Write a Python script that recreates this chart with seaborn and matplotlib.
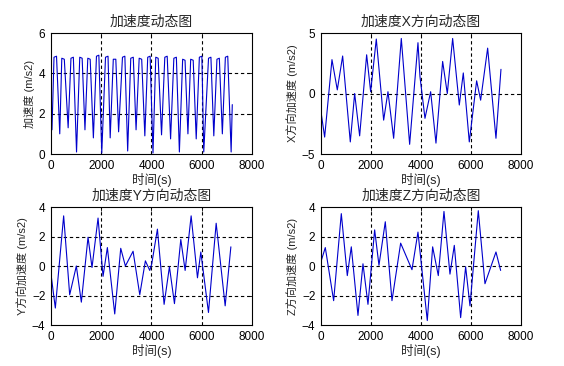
import matplotlib
matplotlib.use('Agg')
import matplotlib.pyplot as plt
import pandas as pd
import seaborn as sns

# Values (time in s, acceleration in m/s2)
# magnitude: the peaks are short plateaus, so each has a start and an end point
t_mag = [0, 40, 120, 220, 349, 430, 530, 683, 795, 890, 1017, 1145, 1240, 1352,
         1465, 1560, 1687, 1810, 1905, 2021, 2170, 2270, 2356, 2480, 2580, 2691,
         2845, 2940, 3052, 3175, 3275, 3386, 3510, 3610, 3735, 3850, 3945, 4060,
         4170, 4265, 4400, 4530, 4625, 4760, 4890, 4990, 5110, 5240, 5335, 5450,
         5560, 5660, 5780, 5905, 6005, 6080, 6270, 6365, 6480, 6605, 6700, 6820,
         6940, 7035, 7170, 7215]
a_mag = [3.3, 1.2, 4.8, 4.85, 1.0, 4.75, 4.7, 1.3, 4.75, 4.8, 0.1, 4.8, 4.75, 1.2,
         4.75, 4.7, 0.8, 4.85, 4.9, 0.05, 4.8, 4.85, 0.8, 4.7, 4.7, 1.1,
         4.8, 4.85, 0.15, 4.75, 4.8, 1.2, 4.75, 4.7, 0.9, 4.8, 4.85, 0.05,
         4.8, 4.75, 0.95, 4.8, 4.85, 0.75, 4.75, 4.8, 0.1, 4.7, 4.65, 1.0,
         4.7, 4.65, 0.75, 4.8, 4.85, 0.1, 4.75, 4.8, 0.9, 4.7, 4.75, 1.0,
         4.8, 4.85, 0.1, 2.45]

t_x = [0, 147, 440, 653, 867, 1173, 1347, 1547, 1827, 1987, 2213, 2507, 2680, 2907,
       3213, 3547, 3880, 3960, 4160, 4387, 4600, 4867, 5053, 5267, 5533, 5693,
       5933, 6227, 6387, 6667, 7000, 7200]
a_x = [-1.5, -3.6, 2.8, 0.3, 3.1, -4.0, 0.0, -3.5, 3.2, 0.15, 4.5, -2.2, 0.15, -3.7,
       4.55, -4.2, 4.2, 1.4, -2.05, 0.15, -4.1, 2.65, 0.0, 4.55, -0.95, 1.7,
       -4.0, 1.05, -0.55, 3.75, -3.7, 2.0]

t_y = [0, 173, 504, 744, 1009, 1208, 1474, 1633, 1873, 2072, 2244, 2537, 2776, 2961,
       3267, 3533, 3757, 3931, 4011, 4236, 4502, 4714, 4914, 5166, 5339, 5578,
       5830, 5963, 6268, 6574, 6932, 7159]
a_y = [-0.55, -2.85, 3.4, -1.95, 0.0, -2.45, 1.95, -0.1, 3.25, -0.7, 1.25, -3.25, 1.2, 0.0,
       1.0, -1.95, 0.35, -0.3, 0.15, 2.5, -2.6, -0.05, -2.55, 1.8, -0.3, 3.4,
       -0.8, 0.95, -3.15, 2.9, -2.7, 1.3]

t_z = [0, 173, 507, 813, 1053, 1213, 1480, 1680, 1880, 2147, 2320, 2573, 2840, 3187,
       3640, 3880, 4253, 4467, 4693, 4920, 5160, 5333, 5587, 5787, 5960, 6293,
       6560, 7000, 7187]
a_z = [0.3, 1.25, -2.35, 3.55, -0.65, 1.3, -3.35, 0.15, -2.6, 2.45, 0.05, 3.0, -2.35, 1.55,
       -0.25, 2.3, -3.7, 1.3, -0.65, 3.7, -0.55, 1.4, -3.5, -0.05, -2.7, 3.75,
       -1.2, 0.95, -0.3]

titles = ['加速度动态图', '加速度X方向动态图', '加速度Y方向动态图', '加速度Z方向动态图']
ylabels = ['加速度 (m/s2)', 'X方向加速度 (m/s2)', 'Y方向加速度 (m/s2)', 'Z方向加速度 (m/s2)']
xlabel = '时间(s)'
xticks = [0, 2000, 4000, 6000, 8000]
yticks = [[0, 2, 4, 6], [-5, 0, 5], [-4, -2, 0, 2, 4], [-4, -2, 0, 2, 4]]

sns.set_style('white')
plt.rcParams['font.family'] = ['Liberation Sans', 'Noto Sans CJK SC']

fig = plt.figure(figsize=(5.64, 3.66), dpi=100)
positions = [
    [0.0904, 0.5792, 0.3564, 0.3306],
    [0.5691, 0.5792, 0.3546, 0.3306],
    [0.0904, 0.1120, 0.3564, 0.3224],
    [0.5691, 0.1120, 0.3546, 0.3224],
]
series = [(t_mag, a_mag), (t_x, a_x), (t_y, a_y), (t_z, a_z)]

for i, (t, a) in enumerate(series):
    ax = fig.add_axes(positions[i])
    df = pd.DataFrame({'t': t, 'a': a})
    sns.lineplot(data=df, x='t', y='a', ax=ax, color='#0000cc', linewidth=0.8,
                 errorbar=None)
    ax.set_xlim(0, 8000)
    ax.set_ylim(yticks[i][0], yticks[i][-1])
    ax.set_xticks(xticks)
    ax.set_yticks(yticks[i])
    ax.tick_params(direction='in', length=3, width=0.6, labelsize=8.5, pad=4,
                   top=True, right=True, colors='black')
    for s in ax.spines.values():
        s.set_color('black')
        s.set_linewidth(0.8)
    # MATLAB style dashed grid
    for x in xticks[1:-1]:
        ax.axvline(x, color='black', lw=0.8, ls=(0, (3, 2.5)), zorder=0)
    for y in yticks[i][1:-1]:
        ax.axhline(y, color='black', lw=0.8, ls=(0, (3, 2.5)), zorder=0)
    ax.set_title(titles[i], fontsize=10, pad=5)
    ax.set_xlabel(xlabel, fontsize=9, labelpad=1)
    ax.set_ylabel(ylabels[i], fontsize=8, labelpad=3)

fig.savefig('out.png', dpi=100, facecolor='white')
